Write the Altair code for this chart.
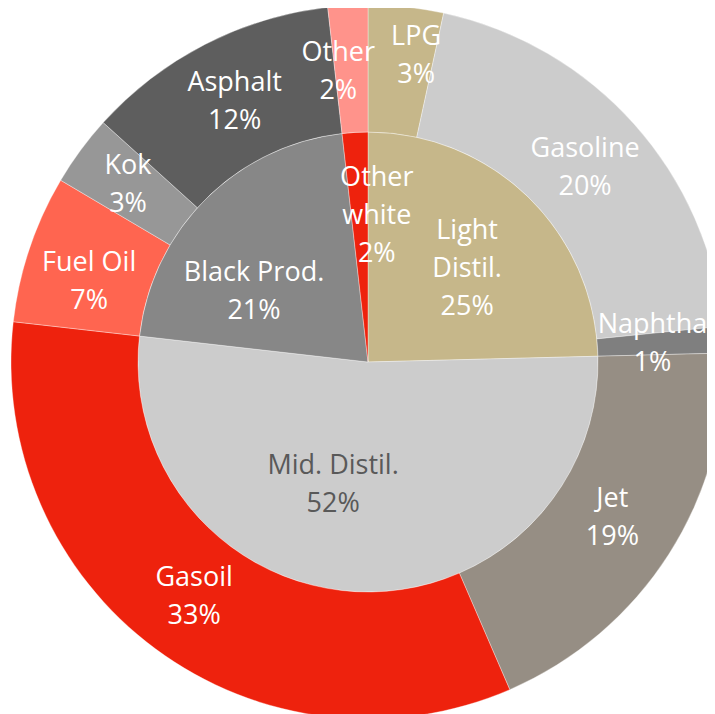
import math
import altair as alt
import pandas as pd

# ---- data ----
inner_names = ["Light Distil.", "Mid. Distil.", "Black Prod.", "Other white"]
inner_text = ["Light\nDistil.", "Mid. Distil.", "Black Prod.", "Other\nwhite"]
inner_values = [24.6, 52.2, 21.4, 1.8]

outer_names = ["LPG", "Gasoline", "Naphtha", "Jet", "Gasoil", "Fuel Oil", "Kok", "Asphalt", "Other"]
outer_text = ["LPG", "Gasoline", "Naphtha", "Jet", "Gasoil", "Fuel Oil", "Kok", "Asphalt", "Other"]
outer_values = [3.4, 20.0, 1.2, 18.9, 33.3, 6.7, 3.2, 11.5, 1.8]

# ---- styles ----
fill_colors = {
    "Light Distil.": "#C6B78A", "Mid. Distil.": "#CCCCCC", "Black Prod.": "#878787",
    "Other white": "#EE220D",
    "LPG": "#C6B78A", "Gasoline": "#CCCCCC", "Naphtha": "#7F7F7F", "Jet": "#968E84",
    "Gasoil": "#EE220D", "Fuel Oil": "#FF6550", "Kok": "#979797", "Asphalt": "#5E5E5E",
    "Other": "#FF938B",
}
text_colors = {"Mid. Distil.": "#595959"}

# label placement: (angular nudge from the slice's mid-angle in degrees, label radius px)
label_place = {
    "Light Distil.": (2.5, 136), "Mid. Distil.": (13.3, 128), "Black Prod.": (-13.3, 134),
    "Other white": (6.7, 146),
    "LPG": (2.8, 310), "Gasoline": (0, 291), "Naphtha": (0, 285), "Jet": (0, 290),
    "Gasoil": (0, 292), "Fuel Oil": (-2.6, 290), "Kok": (0, 298), "Asphalt": (0, 292),
    "Other": (-2.6, 292),
}
LINE_H = 38


def build(names, texts, values):
    total = sum(values)
    rows = []
    acc = 0.0
    for n, t, v in zip(names, texts, values):
        pct = v / total * 100
        nudge, lr = label_place[n]
        label = f"{t}\n{int(pct + 0.5)}%"
        rows.append({
            "name": n,
            "label": label,
            "nlines": label.count("\n") + 1,
            "start": acc,
            "end": acc + pct,
            "mid": acc + pct / 2 + nudge / 3.6,
            "lr": lr,
            "fill": fill_colors[n],
            "tcolor": text_colors.get(n, "#FFFFFF"),
        })
        acc += pct
    return pd.DataFrame(rows)


inner_df = build(inner_names, inner_text, inner_values)
outer_df = build(outer_names, outer_text, outer_values)
all_df = pd.concat([inner_df, outer_df], ignore_index=True)

theta_scale = alt.Scale(domain=[0, 100], range=[0, 2 * math.pi])
CX, CY = 360, 354
R_IN, R_OUT = 230, 357


def ring(df, r_outer, r_inner):
    return alt.Chart(df).mark_arc(
        radius=r_outer, radius2=r_inner, stroke="white", strokeWidth=0.35
    ).encode(
        theta=alt.Theta("start:Q", scale=theta_scale),
        theta2="end:Q",
        fill=alt.Fill("fill:N", scale=None),
        x=alt.value(CX),
        y=alt.value(CY),
    )


def labels(n):
    return alt.Chart(all_df[all_df["nlines"] == n]).mark_text(
        font="Open Sans", fontSize=27, lineHeight=LINE_H,
        lineBreak="\n", align="center", baseline="middle",
        dy=-(n - 1) * LINE_H / 2,
    ).encode(
        theta=alt.Theta("mid:Q", scale=theta_scale),
        radius=alt.Radius("lr:Q", scale=None),
        text="label:N",
        color=alt.Color("tcolor:N", scale=None),
        x=alt.value(CX),
        y=alt.value(CY),
    )


layers = [ring(inner_df, R_IN, 0), ring(outer_df, R_OUT, R_IN)]
for n in sorted(all_df["nlines"].unique()):
    layers.append(labels(int(n)))

chart = alt.layer(*layers).properties(
    width=699, height=706, padding=0,
    autosize=alt.AutoSizeParams(type="none"),
).configure_view(stroke=None)

chart.save("out.html", embed_options={"renderer": "svg", "actions": False})
